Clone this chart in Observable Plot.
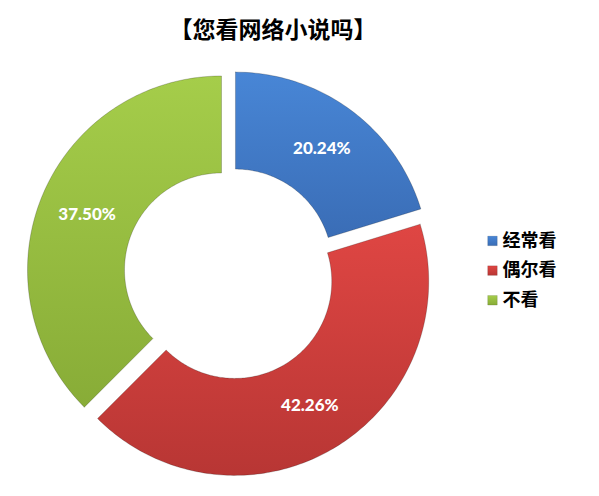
<!DOCTYPE html>
<html><head><meta charset="utf-8">
<script src="https://cdn.jsdelivr.net/npm/d3@7"></script>
<script src="https://cdn.jsdelivr.net/npm/@observablehq/plot@0.6"></script>
<style>
body{margin:0;background:#fff;width:599px;height:496px;overflow:hidden}
#title{height:56px;line-height:56px;width:546px;text-align:center;font-family:"Noto Sans CJK SC";font-weight:bold;font-size:23px;color:#000}
#chart svg{display:block}
</style></head><body>
<div id="title">【您看网络小说吗】</div>
<div id="chart"></div>
<script>
// ---- data ----
const categories = ["经常看", "偶尔看", "不看"];
const shares = [20.24, 42.26, 37.50];
const labels = ["20.24%", "42.26%", "37.50%"];
const gradientIds = ["gBlue", "gRed", "gGreen"];

// ---- layout ----
const W = 599, H = 440, titleH = 56;
const pxPerUnit = 194, cxPage = 229.5, cyPage = 273;
const innerRatio = 0.5, explode = 0.0474;
const legendX = 1.353, legendY0 = 0.168, legendStep = 0.153;

const total = d3.sum(shares);
const ring = [];
const labelPos = [];
let acc = 0;
categories.forEach((cat, i) => {
  const a0 = acc / total * 2 * Math.PI;
  acc += shares[i];
  const a1 = acc / total * 2 * Math.PI;
  const mid = (a0 + a1) / 2;
  const ox = explode * Math.sin(mid), oy = explode * Math.cos(mid);
  const n = Math.max(2, Math.ceil((a1 - a0) / (Math.PI / 180)));
  const poly = [];
  for (let k = 0; k <= n; k++) {
    const a = a0 + (a1 - a0) * k / n;
    poly.push({cat, x: ox + Math.sin(a), y: oy + Math.cos(a)});
  }
  for (let k = n; k >= 0; k--) {
    const a = a0 + (a1 - a0) * k / n;
    poly.push({cat, x: ox + innerRatio * Math.sin(a), y: oy + innerRatio * Math.cos(a)});
  }
  poly.push({...poly[0]});
  ring.push(...poly);
  const rm = (1 + innerRatio) / 2;
  labelPos.push({label: labels[i], x: ox + rm * Math.sin(mid), y: oy + rm * Math.cos(mid)});
});

const legendRows = categories.map((cat, i) => ({cat, x: legendX, y: legendY0 - i * legendStep}));

const svg = Plot.plot({
  width: W, height: H, margin: 0,
  x: {domain: [-cxPage / pxPerUnit, (W - cxPage) / pxPerUnit], axis: null},
  y: {domain: [(cyPage - (H + titleH)) / pxPerUnit, (cyPage - titleH) / pxPerUnit], axis: null},
  color: {type: "ordinal", domain: categories, range: gradientIds.map(id => `url(#${id})`)},
  marks: [
    Plot.line(ring, {x: "x", y: "y", z: "cat", fill: "cat", stroke: "#000", strokeOpacity: 0.2, strokeWidth: 1, curve: "linear"}),
    Plot.text(labelPos, {x: "x", y: "y", text: "label", fill: "white", fontSize: 17, fontWeight: 900, fontFamily: "Lato"}),
    Plot.dot(legendRows, {x: "x", y: "y", symbol: "square", r: 5.4, fill: "cat", stroke: "#000", strokeOpacity: 0.2, strokeWidth: 0.6}),
    Plot.text(legendRows, {x: "x", y: "y", text: "cat", dx: 10, textAnchor: "start", fill: "#000", fontSize: 18, fontFamily: "Noto Sans CJK SC", fontWeight: "bold"})
  ]
});

const defs = `<defs>
<linearGradient id="gBlue" x1="0" y1="0" x2="0" y2="1"><stop offset="0" stop-color="#4886d6"/><stop offset="1" stop-color="#3a6db6"/></linearGradient>
<linearGradient id="gRed" x1="0" y1="0" x2="0" y2="1"><stop offset="0" stop-color="#df4643"/><stop offset="1" stop-color="#b83634"/></linearGradient>
<linearGradient id="gGreen" x1="0" y1="0" x2="0" y2="1"><stop offset="0" stop-color="#a5cd4a"/><stop offset="1" stop-color="#88ac37"/></linearGradient>
</defs>`;
svg.insertAdjacentHTML("afterbegin", defs);
document.getElementById("chart").appendChild(svg);
</script>
</body></html>
